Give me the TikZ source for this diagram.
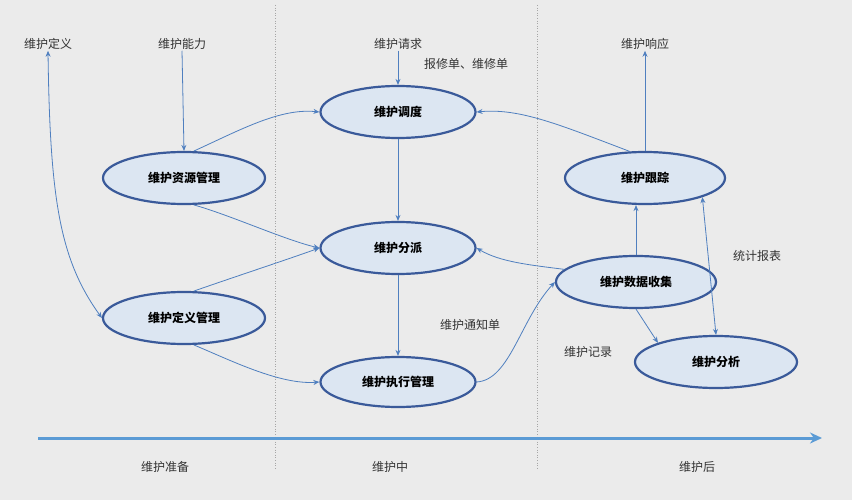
\documentclass[tikz,border=0pt]{standalone}
\usepackage{fontspec}
\newfontfamily\cjk{Noto Sans CJK SC}
\usetikzlibrary{arrows.meta,shapes.geometric}
\definecolor{bg}{HTML}{EBEBEB}
\definecolor{efill}{HTML}{DCE6F2}
\definecolor{edraw}{HTML}{3A5A9A}
\definecolor{arr}{HTML}{4F7FBF}
\definecolor{axis}{HTML}{5B9BD5}
\begin{document}
\begin{tikzpicture}[x=1pt,y=-1pt,
  el/.style={ellipse,draw=edraw,line width=2.2pt,fill=efill,minimum width=160pt,minimum height=52pt,inner sep=0pt,font=\cjk\fontsize{12}{14}\selectfont\bfseries},
  lab/.style={font=\cjk\fontsize{12}{14}\selectfont,text=black!80,inner sep=1pt},
  con/.style={draw=arr,line width=0.8pt,-{Stealth[length=6pt,width=5pt]}},
  dcon/.style={draw=arr,line width=0.8pt,{Stealth[length=6pt,width=5pt]}-{Stealth[length=6pt,width=5pt]}},
  sep/.style={draw=gray!70,dotted,line width=0.6pt}]
\fill[bg] (0,0) rectangle (852,500);
\useasboundingbox (0,0) rectangle (852,500);
\draw[sep] (275,5) -- (275,470);
\draw[sep] (537,5) -- (537,470);
\coordinate (a0) at (38,438); \coordinate (a1) at (822,438);
\draw[axis,line width=3pt,-{Stealth[length=12pt,width=11pt]}] (a0) -- (a1);

\node[el,minimum width=155pt] (dd) at (398,112) {维护调度};
\node[el,minimum width=162pt] (zy) at (184,178) {维护资源管理};
\node[el,minimum width=155pt] (fp) at (398,248) {维护分派};
\node[el,minimum width=162pt] (dy) at (184,318) {维护定义管理};
\node[el,minimum width=155pt,minimum height=50pt] (zx) at (398,382) {维护执行管理};
\node[el] (gz) at (645,178) {维护跟踪};
\node[el] (sj) at (636,282) {维护数据收集};
\node[el,minimum width=162pt] (fx) at (716,362) {维护分析};

\node[lab] (ldy) at (48,44) {维护定义};
\node[lab] (lnl) at (182,44) {维护能力};
\node[lab] (lqq) at (398,44) {维护请求};
\node[lab] (lbx) at (466,64) {报修单、维修单};
\node[lab] (lxy) at (645,44) {维护响应};
\node[lab] (ltj) at (757,256) {统计报表};
\node[lab] (ltz) at (470,325) {维护通知单};
\node[lab] (ljl) at (588,352) {维护记录};
\node[lab] (p1) at (165,467) {维护准备};
\node[lab] (p2) at (390,467) {维护中};
\node[lab] (p3) at (697,467) {维护后};

\draw[dcon] (ldy.south) .. controls (50,200) and (60,260) .. (dy.west);
\draw[con] (lnl.south) -- (zy.north);
\draw[con] (zy.70) .. controls (240,130) and (280,108) .. (dd.west);
\draw[con] (zy.290) .. controls (230,215) and (285,240) .. (fp.west);
\draw[con] (dy.70) .. controls (240,275) and (280,262) .. (fp.west);
\draw[con] (dy.290) .. controls (230,360) and (280,385) .. (zx.west);
\draw[con] (lqq.south) -- (dd.north);
\draw[con] (dd.south) -- (fp.north);
\draw[con] (fp.south) -- (zx.north);
\draw[con] (zx.east) .. controls (510,380) and (520,320) .. (sj.west);
\draw[con] (sj.170) .. controls (530,265) and (500,262) .. (fp.east);
\draw[con] (sj.north) -- (sj.north |- gz.south);
\draw[con] (sj.south) -- (fx.north west);
\draw[dcon] (gz.south east) -- (fx.north);
\draw[con] (gz.120) .. controls (560,125) and (520,108) .. (dd.east);
\draw[con] (gz.north) -- (lxy.south);
\end{tikzpicture}
\end{document}
